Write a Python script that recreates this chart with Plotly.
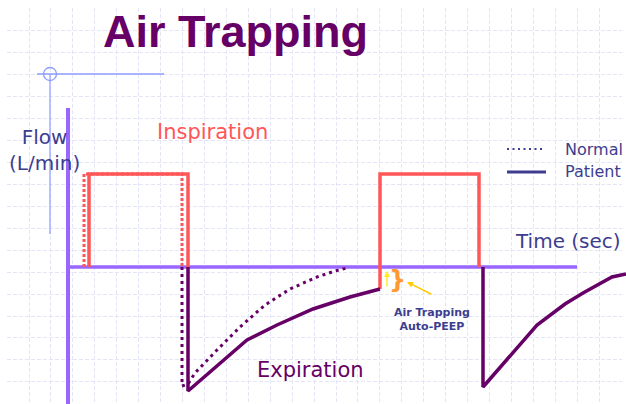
import plotly.graph_objects as go

W, H = 626, 404

# ---- data (time in arbitrary units from the origin, flow in arbitrary units) ----
time_axis_t = [0, 509]
time_axis_f = [0, 0]
flow_axis_t = [0, 0]
flow_axis_f = [159, -137]

normal_insp_t = [16, 16, 114, 114]
normal_insp_f = [0, 93, 93, 0]

patient_insp1_t = [21, 21, 120, 120]
patient_insp1_f = [0, 93, 93, 0]

patient_insp2_t = [312, 312, 411, 411]
patient_insp2_f = [-22, 93, 93, 0]

normal_exp_t = [114, 114, 120, 127, 149, 172, 197, 222, 249, 267, 279]
normal_exp_f = [0, -119, -117, -106, -83, -60, -38, -22, -10, -4, -1]

patient_exp1_t = [120, 120, 179, 209, 245, 282, 312]
patient_exp1_f = [0, -124, -73, -58, -42, -30, -22]

patient_exp2_t = [415, 415, 469, 497, 515, 544, 558]
patient_exp2_f = [0, -120, -58, -37, -26, -10, -7]

cross_h_t = [-31, 96]
cross_h_f = [193, 193]
cross_v_t = [-18, -18]
cross_v_f = [193, 33]

legend_normal_t = [439, 475]
legend_normal_f = [118, 118]
legend_patient_t = [439, 478]
legend_patient_f = [95, 95]

legend_labels = ["Normal", "Patient"]

PURPLE = "#660066"
RED = "#ff5757"
LAV = "#9966ff"
SLATE = "#3d3d8f"
CROSS = "#8c9cff"

fig = go.Figure()

# invisible trace to host the grid subplot
fig.add_trace(go.Scatter(x=[7], y=[404], mode="markers", marker=dict(opacity=0),
                         xaxis="x", yaxis="y", showlegend=False, hoverinfo="skip"))

def line(t, f, color, width, dash="solid"):
    fig.add_trace(go.Scatter(x=t, y=f, mode="lines", xaxis="x2", yaxis="y2",
                             line=dict(color=color, width=width, dash=dash),
                             showlegend=False, hoverinfo="skip"))

# crosshair decoration
line(cross_h_t, cross_h_f, CROSS, 1.5)
line(cross_v_t, cross_v_f, CROSS, 1.2)
fig.add_trace(go.Scatter(x=[cross_v_t[0]], y=[cross_h_f[0]], mode="markers", xaxis="x2", yaxis="y2",
                         marker=dict(symbol="circle-open", size=13, color=CROSS, line=dict(width=1.3)),
                         showlegend=False, hoverinfo="skip"))

# axes
line(flow_axis_t, flow_axis_f, LAV, 4)
line(time_axis_t, time_axis_f, LAV, 3.5)

# inspiration
line(normal_insp_t, normal_insp_f, RED, 3, "3px,2px")
line(patient_insp1_t, patient_insp1_f, RED, 3.5)
line(patient_insp2_t, patient_insp2_f, RED, 3.5)

# expiration
line(normal_exp_t, normal_exp_f, PURPLE, 3, "3px,4px")
line(patient_exp1_t, patient_exp1_f, PURPLE, 3.5)
line(patient_exp2_t, patient_exp2_f, PURPLE, 3.5)

# legend samples
line(legend_normal_t, legend_normal_f, SLATE, 2.2, "2px,3.5px")
line(legend_patient_t, legend_patient_f, SLATE, 3)

def P(px, py):
    return px / W, 1 - py / H

anns = []
def text(s, px, py, size, color, family="DejaVu Sans", xanchor="center", bold=False):
    x, y = P(px, py)
    if bold:
        s = "<b>" + s + "</b>"
    anns.append(dict(text=s, x=x, y=y, xref="paper", yref="paper", showarrow=False,
                     xanchor=xanchor, yanchor="middle", align="center",
                     font=dict(size=size, color=color, family=family)))

text("Air Trapping", 235, 32, 45, PURPLE, family="Liberation Sans", bold=True)
text("Flow<br>(L/min)", 44, 150, 20, SLATE)
text("Inspiration", 212, 132, 21, RED)
text("Expiration", 310, 370, 21, PURPLE)
text("Time (sec)", 568, 241, 20, SLATE)
text(legend_labels[0], 563, 149, 16, SLATE, xanchor="left")
text(legend_labels[1], 563, 172, 16, SLATE, xanchor="left")
text("Air Trapping<br>Auto-PEEP", 432, 319, 11, SLATE, bold=True)
text("}", 397, 280, 24, "#ff9933", bold=True)

# arrows
hx, hy = P(387, 271)
anns.append(dict(text="", x=hx, y=hy, xref="paper", yref="paper", showarrow=True,
                 ax=0, ay=17, arrowhead=2, arrowsize=0.8, arrowwidth=1.5,
                 arrowcolor="#ffee22", standoff=0))
hx, hy = P(407, 282)
anns.append(dict(text="", x=hx, y=hy, xref="paper", yref="paper", showarrow=True,
                 ax=26, ay=13, arrowhead=2, arrowsize=0.8, arrowwidth=1.5,
                 arrowcolor="#ffcc00", standoff=0))

GRID = "#e4e6f8"
fig.update_layout(
    width=W, height=H, autosize=False,
    margin=dict(l=0, r=0, t=0, b=0, pad=0),
    paper_bgcolor="white", plot_bgcolor="rgba(0,0,0,0)",
    showlegend=False,
    xaxis=dict(domain=[7 / W, 622 / W], range=[7, 622], tickmode="linear", tick0=29, dtick=21.93,
               showgrid=True, gridcolor=GRID, griddash="4px,2px", gridwidth=1,
               showticklabels=False, ticks="", zeroline=False, showline=False, fixedrange=True),
    yaxis=dict(domain=[0, 1 - 8 / H], range=[404, 8], tickmode="linear", tick0=9, dtick=21.93,
               showgrid=True, gridcolor=GRID, griddash="4px,2px", gridwidth=1,
               showticklabels=False, ticks="", zeroline=False, showline=False, fixedrange=True),
    xaxis2=dict(domain=[0, 1], range=[-68, 558], anchor="y2", visible=False, fixedrange=True),
    yaxis2=dict(domain=[0, 1], range=[-137, 267], anchor="x2", visible=False, fixedrange=True),
    annotations=anns,
)

fig.write_html(
    "out.html",
    config={"displayModeBar": False},
    post_script="document.documentElement.style.margin='0';document.body.style.margin='0';"
                "document.body.style.overflow='hidden';document.documentElement.style.overflow='hidden';",
)
